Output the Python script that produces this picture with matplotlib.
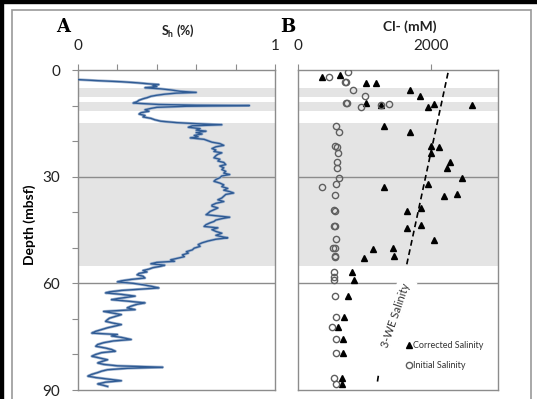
import numpy as np
import matplotlib
matplotlib.use('Agg')
import matplotlib.pyplot as plt
from matplotlib.patches import Rectangle

plt.rcParams['font.family'] = ['Lato', 'DejaVu Sans']

# --- panel A: hydrate saturation log (depth in mbsf, Sh fraction) ---
sh_depth = [2.7, 3.0, 3.3, 3.6, 3.9, 4.1, 4.4, 4.7, 5.0, 5.3, 5.6, 6.0, 6.3, 6.5, 6.8, 7.1,
            7.4, 7.8, 8.1, 8.5, 8.9, 9.3, 9.5, 9.7, 9.9, 10.0, 10.2, 10.5, 10.8, 11.2, 11.6,
            12.0, 12.4, 12.8, 13.2, 13.6, 14.0, 14.4, 14.8, 15.1, 15.4, 15.7, 16.1, 16.5,
            16.9, 17.2, 17.6, 18.0, 18.4, 18.8, 19.1, 19.5, 19.9, 20.3, 20.7, 21.2, 21.6,
            22.1, 22.5, 22.9, 23.3, 23.7, 24.1, 24.7, 25.1, 25.6, 26.0, 26.6, 27.0, 27.5,
            28.0, 28.5, 29.0, 29.4, 29.8, 30.3, 30.8, 31.3, 31.8, 32.3, 32.8, 33.3, 33.8,
            34.2, 34.6, 35.0, 35.5, 36.0, 36.5, 37.0, 37.5, 38.0, 38.3, 38.8, 39.3, 39.8,
            40.3, 40.7, 41.1, 41.4, 41.8, 42.2, 42.6, 43.0, 43.5, 44.0, 44.4, 44.9, 45.4,
            45.9, 46.5, 47.0, 47.2, 47.6, 48.1, 48.6, 49.1, 49.6, 50.1, 50.6, 51.1, 51.5,
            52.0, 52.5, 53.0, 53.4, 53.8, 54.1, 54.5, 54.9, 55.2, 55.6, 56.0, 56.4, 56.8,
            57.2, 57.6, 58.0, 58.5, 58.9, 59.3, 59.6, 60.0, 60.4, 60.8, 61.3, 61.7, 62.0,
            62.4, 62.7, 63.1, 63.6, 64.0, 64.3, 64.6, 65.0, 65.5, 65.9, 66.4, 66.9, 67.4,
            67.7, 67.9, 68.3, 68.8, 69.3, 69.8, 70.2, 70.7, 71.2, 71.6, 72.0, 72.5, 73.0,
            73.5, 74.0, 74.4, 74.8, 75.2, 75.8, 76.2, 76.7, 77.2, 77.7, 78.2, 78.6, 79.1,
            79.5, 80.0, 80.5, 81.0, 81.5, 82.0, 82.4, 82.8, 83.2, 83.6, 83.9, 84.3, 84.7,
            85.1, 85.6, 86.1, 86.5, 87.0, 87.4, 87.8, 88.3, 88.7, 89.0]
sh_value = [0.00, 0.10, 0.22, 0.30, 0.36, 0.41, 0.38, 0.40, 0.34, 0.42, 0.47, 0.52, 0.60, 0.50,
            0.44, 0.40, 0.37, 0.35, 0.33, 0.31, 0.30, 0.28, 0.35, 0.41, 0.60, 0.87, 0.55, 0.40,
            0.37, 0.34, 0.36, 0.32, 0.31, 0.34, 0.33, 0.37, 0.39, 0.42, 0.50, 0.60, 0.73, 0.58,
            0.56, 0.62, 0.60, 0.65, 0.60, 0.63, 0.59, 0.61, 0.57, 0.64, 0.66, 0.68, 0.72, 0.74,
            0.70, 0.68, 0.70, 0.69, 0.73, 0.71, 0.70, 0.69, 0.72, 0.71, 0.74, 0.75, 0.72, 0.74,
            0.73, 0.75, 0.74, 0.77, 0.73, 0.72, 0.70, 0.69, 0.72, 0.74, 0.73, 0.76, 0.74, 0.77,
            0.79, 0.75, 0.74, 0.73, 0.71, 0.74, 0.70, 0.68, 0.68, 0.71, 0.69, 0.67, 0.66, 0.65,
            0.72, 0.77, 0.73, 0.70, 0.69, 0.67, 0.65, 0.64, 0.71, 0.68, 0.70, 0.73, 0.70, 0.74,
            0.76, 0.70, 0.66, 0.63, 0.61, 0.62, 0.59, 0.58, 0.55, 0.56, 0.53, 0.54, 0.50, 0.47,
            0.49, 0.40, 0.37, 0.44, 0.42, 0.38, 0.36, 0.33, 0.35, 0.31, 0.30, 0.33, 0.34, 0.27,
            0.22, 0.20, 0.28, 0.33, 0.37, 0.41, 0.30, 0.22, 0.16, 0.14, 0.22, 0.29, 0.24, 0.20,
            0.17, 0.25, 0.34, 0.30, 0.27, 0.25, 0.29, 0.19, 0.13, 0.17, 0.22, 0.19, 0.16, 0.15,
            0.14, 0.18, 0.22, 0.19, 0.15, 0.12, 0.09, 0.07, 0.20, 0.17, 0.22, 0.27, 0.18, 0.13,
            0.10, 0.09, 0.14, 0.17, 0.19, 0.12, 0.09, 0.07, 0.11, 0.15, 0.12, 0.10, 0.13, 0.20,
            0.43, 0.25, 0.15, 0.12, 0.10, 0.07, 0.05, 0.09, 0.16, 0.22, 0.14, 0.10, 0.13, 0.15]

# --- panel B: pore water chloride ---
corr_depth = [1.9, 1.4, 3.6, 3.6, 5.6, 7.3, 9.4, 9.8, 10.3, 9.7, 9.8, 15.8, 17.5, 21.3, 21.6,
              23.4, 25.8, 27.7, 30.5, 32.1, 32.8, 35.4, 35.0, 39.7, 38.9, 44.3, 43.6, 47.8,
              50.3, 50.1, 52.9, 52.3, 56.7, 59.1, 63.7, 69.4, 72.2, 75.6, 79.7, 86.5, 88.4]
corr_cl = [363, 627, 1015, 1169, 1677, 1826, 1025, 1239, 1945, 2035, 2617, 1289, 1677, 1996,
           2120, 1996, 2284, 2229, 2459, 1945, 1289, 2195, 2379, 1638, 1847, 1638, 1847, 2035,
           1124, 1423, 985, 1438, 811, 841, 751, 691, 602, 676, 676, 667, 667]

init_depth = [1.9, 0.7, 3.3, 3.3, 5.6, 7.3, 9.4, 9.2, 10.3, 9.7, 9.8, 15.8, 17.5, 21.3, 21.6,
              23.4, 26.0, 27.7, 30.5, 32.1, 32.8, 35.1, 39.4, 39.6, 43.8, 44.0, 47.6, 50.1,
              50.2, 52.3, 52.5, 56.7, 58.1, 59.1, 63.5, 69.4, 72.2, 75.6, 79.7, 86.5, 88.4]
init_cl = [463, 751, 702, 722, 831, 1005, 727, 737, 940, 1363, 1239, 563, 617, 552, 592, 602,
           587, 587, 617, 577, 354, 552, 542, 552, 542, 552, 563, 527, 557, 552, 562, 542, 542,
           542, 552, 563, 503, 563, 563, 542, 563]

# 3-WE salinity line (gap where the label sits)
we_depth = [0.8, 54.8, np.nan, 86.0, 88.5]
we_cl = [2250, 1630, np.nan, 1205, 1185]

# shaded hydrate intervals (top, bottom) in mbsf
bands = [(5.0, 7.6), (9.0, 11.5), (15.0, 55.0)]

grey = '#8c8c8c'
fig = plt.figure(figsize=(5.37, 3.99), dpi=100)

# outer frame
fig.patches.append(Rectangle((0, 396 / 399), 1, 3 / 399, transform=fig.transFigure,
                             color='black', zorder=0))
fig.patches.append(Rectangle((0, 0), 3 / 537, 1, transform=fig.transFigure,
                             color='black', zorder=0))
fig.patches.append(Rectangle((12 / 537, -0.05), 519 / 537, 0.05 + 389 / 399,
                             transform=fig.transFigure, fill=False, edgecolor='#999999',
                             lw=1.2, zorder=0))

axA = fig.add_axes([78 / 537, 9 / 399, 197 / 537, 320 / 399])
axB = fig.add_axes([298 / 537, 9 / 399, 200 / 537, 320 / 399])

for ax in (axA, axB):
    for top, bot in bands:
        ax.axhspan(top, bot, color='#e4e4e4', lw=0, zorder=0)
    for d in (30, 60):
        ax.axhline(d, color=grey, lw=1, zorder=1)
    ax.set_ylim(90, 0)
    for s in ax.spines.values():
        s.set_color(grey)
        s.set_linewidth(1)
    ax.xaxis.tick_top()
    ax.tick_params(axis='x', direction='out', length=4, color=grey, pad=8, labelsize=11,
                   labelcolor='#222222')

# panel A
axA.plot(sh_value, sh_depth, color='#a3b6d1', lw=2.0, zorder=2)
axA.plot(sh_value, sh_depth, color='#2f5b94', lw=1.0, zorder=3)
axA.set_xlim(0, 1)
axA.set_xticks(np.arange(0, 1.01, 0.2))
axA.set_xticklabels(['0', '', '', '', '', '1'])
axA.set_yticks(np.arange(0, 91, 10))
axA.set_yticklabels(['0', '', '', '30', '', '', '60', '', '', '90'])
axA.tick_params(axis='y', direction='out', length=4, color=grey, pad=9, labelsize=11,
                labelcolor='#222222')

# panel B
axB.plot(we_cl, we_depth, color='black', lw=1.2, dashes=(3.5, 2.2), zorder=3)
axB.plot(corr_cl, corr_depth, ls='none', marker='^', ms=5, color='black',
         label='Corrected Salinity', zorder=4)
axB.plot(init_cl, init_depth, ls='none', marker='o', ms=4.5, mfc='none', mec='#5f5f5f',
         mew=1.0, label='Initial Salinity', zorder=4)
axB.set_xlim(0, 3000)
axB.set_xticks([0, 2000])
axB.set_xticklabels(['0', '2000'])
axB.set_yticks([])
axB.text(1470, 69.0, '3-WE Salinity', rotation=71, fontsize=8, ha='center', va='center',
         color='#333333', zorder=5,
         bbox=dict(facecolor='white', edgecolor='none', pad=3))
leg = axB.legend(loc='center left', bbox_to_anchor=(0.52, 0.107), frameon=False,
                 fontsize=6.5, handlelength=0.6, handletextpad=0.1, labelspacing=1.2,
                 borderpad=0)
for t in leg.get_texts():
    t.set_color('#333333')

# labels
fig.text(63 / 537, 1 - 27 / 399, 'A', family='DejaVu Serif', fontweight='bold', fontsize=13,
         ha='center', va='center')
fig.text(288 / 537, 1 - 27 / 399, 'B', family='DejaVu Serif', fontweight='bold', fontsize=13,
         ha='center', va='center')
fig.text(178 / 537, 1 - 31 / 399, r'S$_\mathregular{h}$ (%)', fontsize=9, fontweight='bold',
         ha='center', va='center', color='#222222')
fig.text(410 / 537, 1 - 27 / 399, 'Cl- (mM)', fontsize=10, fontweight='bold',
         ha='center', va='center', color='#222222')
fig.text(30 / 537, 1 - 225 / 399, 'Depth (mbsf)', fontsize=10, fontweight='bold',
         rotation=90, ha='center', va='center')

fig.savefig('out.png', dpi=100)
